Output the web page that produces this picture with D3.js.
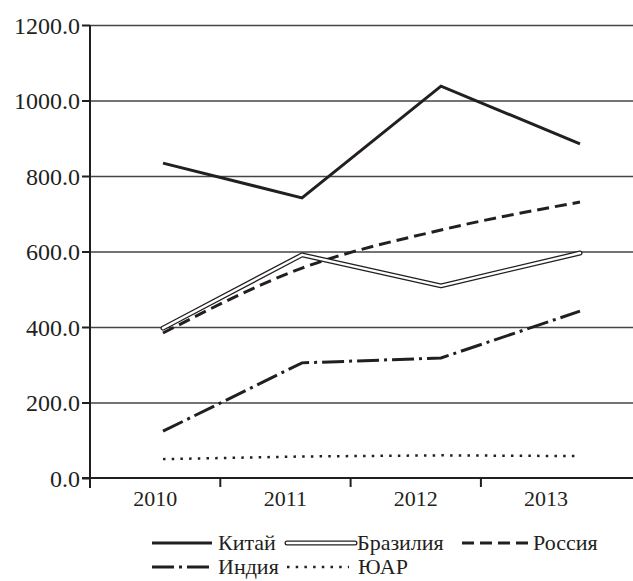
<!DOCTYPE html>
<html><head><meta charset="utf-8">
<script src="https://cdn.jsdelivr.net/npm/d3@7"></script>
<style>
html,body{margin:0;padding:0;background:#fff;}
svg text{font-family:'Liberation Serif','Times New Roman',serif;fill:#231f20;}
</style></head>
<body><svg id="c" width="633" height="581"></svg>
<script>
const years = ["2010","2011","2012","2013"];
const yTicks = [0,200,400,600,800,1000,1200];
const china  = [834,742,1038,885];
const brazil = [397,591,509,596];
const russia = [384,556,657,731];
const india  = [124,305,318,442];
const sa     = [50,57,60,58];
const names  = ["Китай","Бразилия","Россия","Индия","ЮАР"];

const svg = d3.select("#c");
const ink = "#231f20";
const pL = 90, pR = 633, pT = 25, pB = 478;

const y = d3.scaleLinear().domain([0,1200]).range([pB, pT]);
const xBand = d3.scaleBand().domain(years).range([pL, pL + 4*130.3]);
const xPt = d3.scalePoint().domain(years).range([163, 580]);

// gridlines
svg.append("g").selectAll("line").data(yTicks.filter(d=>d>0)).join("line")
  .attr("x1", pL).attr("x2", pR)
  .attr("y1", d=>y(d)+0.5).attr("y2", d=>y(d)+0.5)
  .attr("stroke", "#444").attr("stroke-width", 1.3);

// y axis
const ya = svg.append("g").attr("transform", `translate(${pL},0)`)
  .call(d3.axisLeft(y).tickValues(yTicks).tickFormat(d3.format(".1f")).tickSize(8).tickPadding(2));
ya.attr("font-family", null);
ya.select(".domain").attr("stroke", ink).attr("stroke-width", 2).attr("d", `M0,${pT}V${pB+10}`);
ya.selectAll(".tick line").attr("stroke", ink).attr("stroke-width", 2);
ya.selectAll(".tick text").style("font-size","24px").attr("fill", ink).attr("dy","0.34em");

// x axis
const xa = svg.append("g").attr("transform", `translate(0,${pB})`)
  .call(d3.axisBottom(xBand).tickSize(0).tickPadding(12));
xa.attr("font-family", null);
xa.select(".domain").attr("stroke", ink).attr("stroke-width", 2).attr("d", `M${pL-8},0H${pR}`);
xa.selectAll(".tick text").style("font-size","22px").attr("fill", ink).attr("dy","0.71em");
xa.selectAll(".tick line").remove();
xa.append("g").selectAll("line").data(years).join("line")
  .attr("x1", d=>xBand(d)).attr("x2", d=>xBand(d)).attr("y1", 0).attr("y2", 9)
  .attr("stroke", ink).attr("stroke-width", 2);

const line = d3.line().x((d,i)=>xPt(years[i])).y(d=>y(d));
const smooth = d3.line().x((d,i)=>xPt(years[i])).y(d=>y(d)).curve(d3.curveMonotoneX);

const g = svg.append("g").attr("fill","none");
// ЮАР
g.append("path").attr("d", line(sa)).attr("stroke", ink).attr("stroke-width", 2.5).attr("stroke-dasharray","2.5,6.2");
// India
g.append("path").attr("d", line(india)).attr("stroke", ink).attr("stroke-width", 3).attr("stroke-dasharray","22,5,3,5");
// Russia
g.append("path").attr("d", smooth(russia)).attr("stroke", ink).attr("stroke-width", 3).attr("stroke-dasharray","12,6");
// Brazil double
g.append("path").attr("d", line(brazil)).attr("stroke", ink).attr("stroke-width", 5).attr("stroke-linejoin","round").attr("stroke-linecap","round");
g.append("path").attr("d", line(brazil)).attr("stroke", "#fff").attr("stroke-width", 2.4).attr("stroke-linejoin","round").attr("stroke-linecap","round");
// China
g.append("path").attr("d", line(china)).attr("stroke", ink).attr("stroke-width", 3);

// legend
const leg = svg.append("g").attr("fill","none");
const items = [
  {n:names[0], x:152, y:543, w:60, gap:6, type:"solid"},
  {n:names[1], x:287, y:543, w:68, gap:2, type:"double"},
  {n:names[2], x:462, y:543, w:66, gap:5, type:"dash"},
  {n:names[3], x:152, y:567, w:60, gap:6, type:"dashdot"},
  {n:names[4], x:287, y:567, w:62, gap:9, type:"dot"}
];
items.forEach(it=>{
  const p = `M${it.x},${it.y}H${it.x+it.w}`;
  if (it.type==="double"){
    leg.append("path").attr("d",p).attr("stroke",ink).attr("stroke-width",5).attr("stroke-linecap","round");
    leg.append("path").attr("d",p).attr("stroke","#fff").attr("stroke-width",2.4).attr("stroke-linecap","round");
  } else {
    const da = {solid:null, dash:"12,6", dashdot:"22,5,3,5", dot:"2.5,6.2"}[it.type];
    leg.append("path").attr("d",p).attr("stroke",ink).attr("stroke-width", it.type==="dot"?2.5:3)
      .attr("stroke-dasharray", da);
  }
  leg.append("text").attr("x", it.x+it.w+it.gap).attr("y", it.y).attr("dy","0.33em")
    .attr("fill", ink).style("font-size","22px").text(it.n);
});
</script></body></html>
